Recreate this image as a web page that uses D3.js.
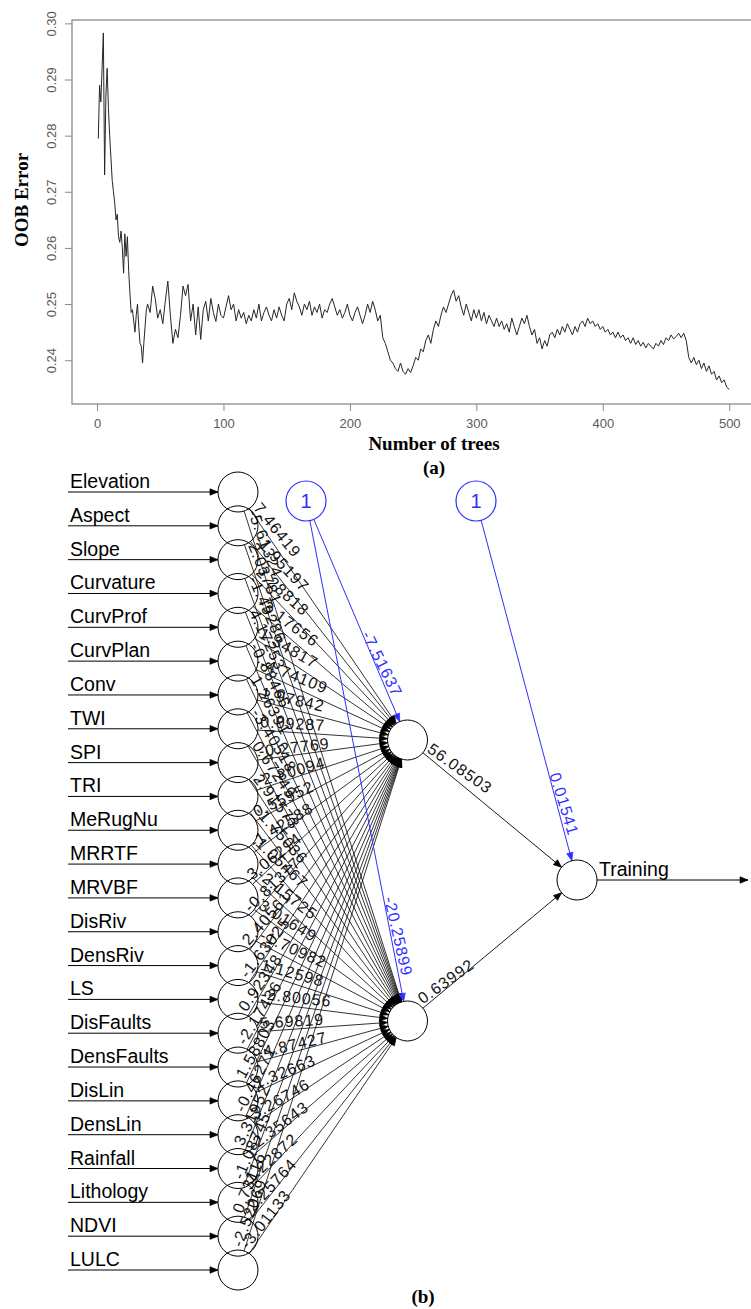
<!DOCTYPE html>
<html>
<head>
<meta charset="utf-8">
<script src="https://cdn.jsdelivr.net/npm/d3@7"></script>
<style>
  html, body { margin: 0; padding: 0; background: #fff; }
  svg { display: block; }
</style>
</head>
<body>
<svg id="fig" width="751" height="1309"></svg>
<script>
// ---------- Panel (a): out-of-bag error against number of trees ----------
const earlyTrees = d3.range(1, 41);
const earlyError = [
  0.2795, 0.2890, 0.2860, 0.2920, 0.2983, 0.2730, 0.2870, 0.2920, 0.2850, 0.2800,
  0.2760, 0.2720, 0.2700, 0.2680, 0.2650, 0.2660, 0.2620, 0.2610, 0.2630, 0.2600,
  0.2555, 0.2625, 0.2585, 0.2620, 0.2560, 0.2520, 0.2485, 0.2490, 0.2470, 0.2450,
  0.2480, 0.2500, 0.2460, 0.2430, 0.2425, 0.2395, 0.2430, 0.2460, 0.2490, 0.2500
];
const laterTrees = d3.range(42, 501, 2);
const laterError = [
  0.2485, 0.2532, 0.2510, 0.2475, 0.2490, 0.2465, 0.2505, 0.2541, 0.2480, 0.2430,
  0.2455, 0.2440, 0.2480, 0.2532, 0.2515, 0.2535, 0.2470, 0.2500, 0.2445, 0.2495,
  0.2437, 0.2490, 0.2505, 0.2470, 0.2510, 0.2485, 0.2469, 0.2500, 0.2480, 0.2475,
  0.2495, 0.2515, 0.2490, 0.2500, 0.2470, 0.2490, 0.2475, 0.2485, 0.2465, 0.2480,
  0.2470, 0.2490, 0.2475, 0.2500, 0.2470, 0.2485, 0.2495, 0.2480, 0.2470, 0.2490,
  0.2475, 0.2495, 0.2480, 0.2470, 0.2500, 0.2510, 0.2490, 0.2520, 0.2505, 0.2495,
  0.2480, 0.2500, 0.2490, 0.2505, 0.2480, 0.2495, 0.2485, 0.2500, 0.2475, 0.2490,
  0.2485, 0.2500, 0.2510, 0.2495, 0.2480, 0.2490, 0.2475, 0.2485, 0.2500, 0.2480,
  0.2470, 0.2485, 0.2495, 0.2480, 0.2465, 0.2480, 0.2500, 0.2485, 0.2505, 0.2490,
  0.2470, 0.2480, 0.2440, 0.2430, 0.2415, 0.2400, 0.2395, 0.2385, 0.2380, 0.2395,
  0.2380, 0.2375, 0.2385, 0.2378, 0.2390, 0.2405, 0.2400, 0.2420, 0.2415, 0.2435,
  0.2445, 0.2430, 0.2455, 0.2470, 0.2460, 0.2480, 0.2495, 0.2485, 0.2500, 0.2515,
  0.2525, 0.2505, 0.2515, 0.2495, 0.2480, 0.2500, 0.2485, 0.2470, 0.2490, 0.2475,
  0.2490, 0.2470, 0.2485, 0.2465, 0.2480, 0.2470, 0.2460, 0.2475, 0.2460, 0.2470,
  0.2455, 0.2465, 0.2450, 0.2475, 0.2460, 0.2445, 0.2460, 0.2475, 0.2465, 0.2480,
  0.2460, 0.2445, 0.2455, 0.2430, 0.2440, 0.2420, 0.2435, 0.2425, 0.2445, 0.2450,
  0.2440, 0.2455, 0.2445, 0.2460, 0.2450, 0.2465, 0.2455, 0.2445, 0.2460, 0.2450,
  0.2465, 0.2470, 0.2460, 0.2475, 0.2465, 0.2470, 0.2460, 0.2465, 0.2455, 0.2460,
  0.2450, 0.2455, 0.2445, 0.2450, 0.2440, 0.2450, 0.2440, 0.2445, 0.2435, 0.2440,
  0.2430, 0.2440, 0.2428, 0.2435, 0.2425, 0.2432, 0.2422, 0.2430, 0.2425, 0.2420,
  0.2430, 0.2425, 0.2435, 0.2428, 0.2440, 0.2435, 0.2445, 0.2438, 0.2442, 0.2448,
  0.2440, 0.2448, 0.2435, 0.2405, 0.2395, 0.2405, 0.2392, 0.2400, 0.2385, 0.2395,
  0.2380, 0.2390, 0.2375, 0.2380, 0.2365, 0.2372, 0.2360, 0.2365, 0.2352, 0.2348
];
const xTicks = [0, 100, 200, 300, 400, 500];
const yTicks = [0.24, 0.25, 0.26, 0.27, 0.28, 0.29, 0.30];

// ---------- Panel (b): neural network weights ----------
const inputNames = [
  "Elevation", "Aspect", "Slope", "Curvature", "CurvProf", "CurvPlan", "Conv", "TWI",
  "SPI", "TRI", "MeRugNu", "MRRTF", "MRVBF", "DisRiv", "DensRiv", "LS",
  "DisFaults", "DensFaults", "DisLin", "DensLin", "Rainfall", "Lithology", "NDVI", "LULC"
];
const weightsH1 = [
  7.46419, -1.95197, 2.28818, -3.17656, 1.34817, -4.74109, 1.97842, 0.09287,
  -0.27769, -2.80094, 0.55952, -1.42588, 3.06214, -0.81377, 2.40561, -1.63025,
  0.92348, -2.17436, 1.58803, -0.46271, 3.31952, -1.08745, 0.73116, -2.52069
];
const weightsH2 = [
  -5.61324, 2.03781, -1.49286, 4.17253, -0.88465, 1.26391, -3.40518, 0.67249,
  2.91573, -1.75036, 1.05467, -2.15725, 3.01649, -1.70982, 1.12598, -2.80056,
  5.69819, -4.87427, 1.32663, 3.26746, -2.35643, 1.22872, -2.25764, -3.01133
];
const biasHidden = [-7.51637, -20.25899];
const weightsOut = [56.08503, 0.63992];
const biasOut = 0.01541;
const outputName = "Training";

const svg = d3.select("#fig");
const gray = "#8a8a8a";
const sans = "'Liberation Sans', Arial, sans-serif";
const serif = "'Liberation Serif', 'Times New Roman', serif";

// ---- panel (a) ----
const xA = d3.scaleLinear().domain([-19.8, 518]).range([72, 752]);
const yA = d3.scaleLinear().domain([0.2322, 0.3006]).range([404, 20]);
const pa = svg.append("g");

const series = [];
earlyTrees.forEach((t, i) => series.push([t, earlyError[i]]));
laterTrees.forEach((t, i) => { if (i < laterError.length) series.push([t, laterError[i]]); });

pa.append("path").datum(series)
  .attr("fill", "none").attr("stroke", "#262626").attr("stroke-width", 1)
  .attr("stroke-linejoin", "round")
  .attr("d", d3.line().x(d => xA(d[0])).y(d => yA(d[1])));

pa.append("rect")
  .attr("x", xA.range()[0]).attr("y", yA.range()[1])
  .attr("width", 700).attr("height", yA.range()[0] - yA.range()[1])
  .attr("fill", "none").attr("stroke", gray).attr("stroke-width", 1.3);

const ax = pa.append("g").attr("transform", `translate(0,${yA.range()[0]})`)
  .call(d3.axisBottom(xA).tickValues(xTicks).tickSize(7).tickPadding(8).tickFormat(d3.format("d")));
ax.select(".domain").remove();
ax.selectAll(".tick line").attr("stroke", gray);
ax.selectAll(".tick text").attr("fill", "#5a5a5a").style("font-family", sans).style("font-size", "13px");

const ay = pa.append("g").attr("transform", `translate(${xA.range()[0]},0)`)
  .call(d3.axisLeft(yA).tickValues(yTicks).tickSize(7).tickFormat(d3.format(".2f")));
ay.select(".domain").remove();
ay.selectAll(".tick line").attr("stroke", gray);
ay.selectAll(".tick text")
  .attr("x", 0).attr("dy", 0).attr("text-anchor", "middle")
  .attr("transform", "translate(-16,0) rotate(-90)")
  .attr("fill", "#5a5a5a").style("font-family", sans).style("font-size", "13px");

pa.append("text").attr("x", 434).attr("y", 450).attr("text-anchor", "middle")
  .style("font", `bold 19px ${serif}`).text("Number of trees");
pa.append("text").attr("x", 434).attr("y", 474).attr("text-anchor", "middle")
  .style("font", `bold 19px ${serif}`).text("(a)");
pa.append("text").attr("transform", "translate(28,200) rotate(-90)").attr("text-anchor", "middle")
  .style("font", `bold 19px ${serif}`).text("OOB Error");

// ---- panel (b) ----
const pb = svg.append("g");
const R = 20;
const blue = "#2f2fff";
const layerX = d3.scalePoint().domain(["input", "hidden", "output"]).range([238, 577]);
const yIn = d3.scaleLinear().domain([0, inputNames.length - 1]).range([492, 1270]);
const hiddenY = [740, 1021];
const outY = 880;
const biasPos = [[306, 501], [476, 501]];

const inPts = inputNames.map((n, i) => [layerX("input"), yIn(i)]);
const hidPts = hiddenY.map(v => [layerX("hidden"), v]);
const outPt = [layerX("output"), outY];
const kAspect = 0.85; // label angle follows the plotting device aspect

function head(g, tip, ux, uy, color, len = 8, hw = 3.2) {
  const bx = tip[0] - ux * len, by = tip[1] - uy * len;
  g.append("path")
    .attr("d", `M${tip[0]},${tip[1]}L${bx - uy * hw},${by + ux * hw}L${bx + uy * hw},${by - ux * hw}Z`)
    .attr("fill", color).attr("stroke", color).attr("stroke-width", 0.7);
}

function geom(a, b) {
  const dx = b[0] - a[0], dy = b[1] - a[1], L = Math.hypot(dx, dy);
  return { dx, dy, L, ux: dx / L, uy: dy / L };
}

function edge(g, a, b, color, width) {
  const q = geom(a, b);
  const p1 = [a[0] + q.ux * R, a[1] + q.uy * R];
  const p2 = [b[0] - q.ux * R, b[1] - q.uy * R];
  g.append("line").attr("x1", p1[0]).attr("y1", p1[1]).attr("x2", p2[0]).attr("y2", p2[1])
    .attr("stroke", color).attr("stroke-width", width);
  head(g, p2, q.ux, q.uy, color);
}

// label starting just outside the source node (atStart) or ending short of the target
function weightLabel(g, a, b, value, color, atStart) {
  const q = geom(a, b);
  const ang = Math.atan2(q.dy * kAspect, q.dx);
  const nx = Math.sin(ang), ny = -Math.cos(ang);
  let px, py, anchor;
  if (atStart) {
    px = a[0] + q.ux * R * 1.1; py = a[1] + q.uy * R * 1.1; anchor = "start";
  } else {
    px = b[0] - q.ux * 44; py = b[1] - q.uy * 44; anchor = "end";
  }
  px += nx * 3; py += ny * 3;
  g.append("text")
    .attr("transform", `translate(${px},${py}) rotate(${ang * 180 / Math.PI})`)
    .attr("text-anchor", anchor)
    .attr("fill", color)
    .style("font-family", sans).style("font-size", "16px").style("letter-spacing", "1px")
    .text(String(value));
}

const gLines = pb.append("g");
const gLabels = pb.append("g");

// input arrows and names
inPts.forEach((p, i) => {
  gLines.append("line").attr("x1", 68).attr("y1", p[1]).attr("x2", p[0] - R).attr("y2", p[1])
    .attr("stroke", "#000").attr("stroke-width", 1);
  head(gLines, [p[0] - R, p[1]], 1, 0, "#000");
  gLabels.append("text").attr("x", 70).attr("y", p[1] - 4)
    .style("font-family", sans).style("font-size", "19.5px").text(inputNames[i]);
});

// input -> hidden connections
const hiddenWeights = [weightsH1, weightsH2];
hidPts.forEach((h, j) => {
  inPts.forEach((p, i) => {
    edge(gLines, p, h, "#000", 0.8);
    weightLabel(gLabels, p, h, hiddenWeights[j][i], "#141414", true);
  });
});

// bias -> hidden
hidPts.forEach((h, j) => {
  edge(gLines, biasPos[0], h, blue, 1);
  weightLabel(gLabels, biasPos[0], h, biasHidden[j], blue, false);
});

// hidden -> output
hidPts.forEach((h, j) => {
  edge(gLines, h, outPt, "#000", 0.9);
  weightLabel(gLabels, h, outPt, weightsOut[j], "#141414", true);
});

// bias -> output
edge(gLines, biasPos[1], outPt, blue, 1);
weightLabel(gLabels, biasPos[1], outPt, biasOut, blue, false);

// output arrow
gLines.append("line").attr("x1", outPt[0] + R).attr("y1", outY).attr("x2", 748).attr("y2", outY)
  .attr("stroke", "#000").attr("stroke-width", 1);
head(gLines, [748, outY], 1, 0, "#000");
gLabels.append("text").attr("x", outPt[0] + R + 2).attr("y", outY - 4)
  .style("font-family", sans).style("font-size", "19.5px").text(outputName);

// nodes
const gNodes = pb.append("g");
inPts.concat(hidPts, [outPt]).forEach(p => {
  gNodes.append("circle").attr("cx", p[0]).attr("cy", p[1]).attr("r", R)
    .attr("fill", "none").attr("stroke", "#000").attr("stroke-width", 1);
});
biasPos.forEach(p => {
  gNodes.append("circle").attr("cx", p[0]).attr("cy", p[1]).attr("r", R)
    .attr("fill", "#fff").attr("stroke", blue).attr("stroke-width", 1.2);
  gNodes.append("text").attr("x", p[0]).attr("y", p[1] + 7).attr("text-anchor", "middle")
    .attr("fill", blue).style("font-family", sans).style("font-size", "20px").text("1");
});

pb.append("text").attr("x", 423).attr("y", 1303).attr("text-anchor", "middle")
  .style("font", `bold 19px ${serif}`).text("(b)");
</script>
</body>
</html>
